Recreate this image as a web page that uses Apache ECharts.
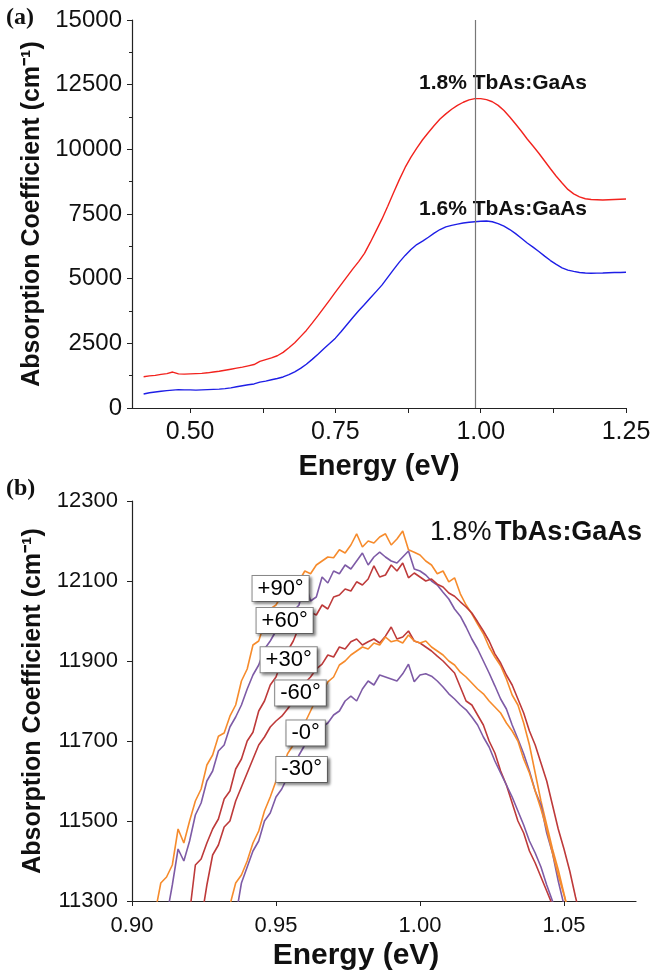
<!DOCTYPE html>
<html><head><meta charset="utf-8">
<script src="https://cdn.jsdelivr.net/npm/echarts@6/dist/echarts.min.js"></script>
<style>html,body{margin:0;padding:0;background:#fff}#c{width:663px;height:977px}</style>
</head><body><div id="c"></div>
<script>
// ---------- Panel (a) ----------
const energyA = Array.from({length: 84}, (_, i) => +(0.42 + 0.01 * i).toFixed(2));
const absorb18 = [1210,1240,1260,1300,1330,1390,1320,1310,1320,1330,
  1340,1360,1390,1420,1460,1500,1540,1580,1630,1680,
  1800,1870,1940,2020,2150,2330,2520,2760,3000,3280,
  3570,3870,4170,4480,4780,5080,5380,5660,5980,6400,
  6850,7300,7800,8320,8830,9300,9700,10050,10370,10650,
  10920,11170,11370,11550,11700,11820,11910,11960,11960,11920,
  11840,11700,11500,11250,10980,10700,10400,10130,9850,9550,
  9250,8960,8700,8450,8280,8160,8090,8060,8050,8040,
  8050,8060,8070,8080];
const absorb16 = [540,590,620,650,670,690,710,700,700,690,
  700,710,720,730,750,780,820,860,900,930,
  1000,1040,1090,1140,1200,1290,1400,1530,1690,1880,
  2080,2290,2490,2700,2960,3230,3500,3760,4000,4250,
  4500,4750,5050,5350,5640,5900,6130,6320,6450,6600,
  6760,6900,7000,7060,7110,7150,7180,7200,7220,7230,
  7200,7130,7030,6900,6740,6560,6380,6220,6050,5870,
  5700,5550,5420,5330,5280,5240,5220,5210,5215,5220,
  5230,5240,5240,5250];
const peakLineA = 0.99;
const xTicksA = [0.5, 0.75, 1.0, 1.25];
const xMinorA = [0.5, 0.625, 0.75, 0.875, 1.0, 1.125, 1.25];

// ---------- Panel (b) ----------
const energyB = Array.from({length: 77}, (_, i) => +(0.906 + 0.002 * i).toFixed(3));
const angleNames = ['+90°', '+60°', '+30°', '-60°', '-0°', '-30°'];
const absP90 = [null,11270,11345,11360,11390,11480,11445,11500,11550,11580,
  11640,11665,11712,11720,11762,11790,11850,11880,11940,11950,
  11995,12030,12040,12065,12075,12098,12100,12125,12118,12140,
  12150,12160,12158,12178,12170,12190,12218,12185,12200,12195,
  12210,12218,12190,12205,12225,12178,12172,12165,12150,12140,
  12118,12125,12098,12108,12068,12040,12018,11992,11968,11935,
  11910,11888,11855,11815,11790,11745,11690,11620,11550,11490,
  11430,11378,11318,11260,null,null,null];
const absP60 = [null,null,null,11260,11340,11430,11400,11450,11515,11545,
  11600,11625,11675,11690,11735,11760,11790,11830,11865,11890,
  11930,11950,11975,11990,12010,12025,12040,12100,12050,12060,
  12110,12095,12125,12118,12140,12130,12150,12170,12140,12160,
  12172,12160,12150,12145,12160,12175,12130,12125,12115,12100,
  12090,12072,12055,12030,12012,11985,11955,11930,11900,11870,
  11838,11805,11780,11740,11705,11668,11625,11575,11540,11470,
  11420,11350,11290,null,null,null,null];
const absP30 = [null,null,null,null,null,null,null,11270,11390,11405,
  11445,11480,11505,11555,11575,11630,11655,11700,11722,11775,
  11800,11840,11860,11900,11925,11950,11985,12000,12022,12015,
  12040,12030,12060,12065,12080,12075,12098,12090,12105,12138,
  12110,12115,12140,12125,12145,12108,12120,12110,12100,12105,
  12092,12085,12070,12062,12048,12035,12020,11998,11975,11950,
  11918,11895,11865,11840,11805,11770,11725,11690,11645,11600,
  11540,11480,11430,11375,11310,11250,null];
const absM60 = [null,null,null,null,null,null,null,null,null,11250,
  11340,11415,11440,11485,11500,11550,11585,11620,11655,11690,
  11710,11735,11750,11762,11780,11800,11825,11845,11860,11880,
  11892,11915,11910,11935,11930,11948,11955,11940,11948,11955,
  11945,11962,11985,11955,11960,11975,11950,11945,11935,11925,
  11912,11900,11885,11870,11835,11800,11790,11765,11740,11700,
  11670,11625,11590,11545,11500,11470,11425,11395,11360,11325,
  11290,11250,null,null,null,null,null];
const absM0 = [null,null,null,null,null,null,null,null,null,null,
  null,null,null,null,11290,11345,11365,11400,11445,11475,
  11525,11560,11600,11625,11668,11690,11720,11745,11775,11805,
  11820,11848,11860,11890,11900,11915,11925,11935,11930,11945,
  11940,11960,11948,11952,11945,11965,11950,11945,11950,11935,
  11925,11915,11900,11890,11872,11860,11845,11830,11818,11800,
  11785,11770,11745,11725,11700,11655,11620,11575,11530,11480,
  11420,11365,11315,11260,null,null,null];
const absM30 = [null,null,null,null,null,null,null,null,null,null,
  null,null,null,null,null,11260,11345,11385,11425,11450,
  11500,11520,11560,11580,11610,11635,11665,11690,11705,11720,
  11735,11745,11765,11775,11800,11812,11800,11830,11850,11840,
  11865,11860,11855,11850,11868,11892,11848,11865,11868,11862,
  11850,11835,11818,11805,11790,11778,11760,11740,11710,11685,
  11650,11620,11590,11560,11525,11490,11450,11420,11385,11340,
  11300,11250,null,null,null,null,null];
// label anchors (energy, absorption) for the boxed angle labels
const labelAnchors = [[0.9516,12081],[0.9530,12001],[0.9544,11903],[0.9585,11820],[0.9603,11720],[0.9589,11629]];

const seriesB = [absP90, absP60, absP30, absM60, absM0, absM30];
const colorsB = ['#F68B2C', '#7E5BA6', '#BE3A3A', '#BE3A3A', '#F68B2C', '#7E5BA6'];

const FONT = "'Liberation Sans', Arial, Helvetica, sans-serif";

function pairs(xs, ys) {
  const out = [];
  for (let i = 0; i < xs.length; i++) if (ys[i] !== null && ys[i] !== undefined) out.push([xs[i], ys[i]]);
  return out;
}

const chart = echarts.init(document.getElementById('c'), null, {renderer: 'canvas'});

const axisLine = {show: true, lineStyle: {color: '#222', width: 1.2}};

const series = [
  {type: 'line', xAxisIndex: 0, yAxisIndex: 0, data: pairs(energyA, absorb18), showSymbol: false,
   lineStyle: {color: '#F2231E', width: 1.4}, itemStyle: {color: '#F2231E'},
   markLine: {silent: true, symbol: 'none', label: {show: false}, lineStyle: {color: '#777', width: 1.2, type: 'solid'},
     data: [{xAxis: peakLineA}]}},
  {type: 'line', xAxisIndex: 0, yAxisIndex: 0, data: pairs(energyA, absorb16), showSymbol: false,
   lineStyle: {color: '#1E1EE6', width: 1.4}, itemStyle: {color: '#1E1EE6'}}
];
seriesB.forEach((vals, k) => {
  series.push({
    type: 'line', xAxisIndex: 1, yAxisIndex: 1, name: angleNames[k],
    data: pairs(energyB, vals), showSymbol: false, clip: true,
    lineStyle: {color: colorsB[k], width: 1.6}, itemStyle: {color: colorsB[k]},
    markPoint: {
      symbol: 'rect', symbolSize: 1, silent: true, itemStyle: {color: 'rgba(0,0,0,0)'},
      label: {show: true, position: 'inside', formatter: angleNames[k], color: '#000', fontFamily: FONT, fontSize: 22,
        backgroundColor: '#fff', borderColor: '#8a8a8a', borderWidth: 1, padding: [2, 5, 1, 5],
        shadowColor: 'rgba(0,0,0,0.45)', shadowBlur: 3, shadowOffsetX: 2, shadowOffsetY: 2},
      data: [{coord: labelAnchors[k]}]
    }
  });
});

chart.setOption({
  animation: false,
  backgroundColor: '#fff',
  grid: [
    {left: 132, top: 20, width: 494, height: 388},
    {left: 132, top: 501, width: 504, height: 400}
  ],
  xAxis: [
    {gridIndex: 0, type: 'value', min: 0.4, max: 1.25,
     axisLine: axisLine, splitLine: {show: false},
     axisTick: {show: true, customValues: xMinorA, length: 5, lineStyle: {color: '#222'}},
     axisLabel: {customValues: xTicksA, formatter: v => v.toFixed(2), color: '#111', fontFamily: FONT, fontSize: 25, margin: 12},
     name: 'Energy (eV)', nameLocation: 'middle', nameGap: 44,
     nameTextStyle: {fontFamily: FONT, fontWeight: 'bold', fontSize: 29, color: '#111'}},
    {gridIndex: 1, type: 'value', min: 0.9, max: 1.075,
     axisLine: axisLine, splitLine: {show: false},
     axisTick: {show: true, customValues: [0.9, 0.95, 1.0, 1.05], length: 5, lineStyle: {color: '#222'}},
     axisLabel: {customValues: [0.9, 0.95, 1.0, 1.05], formatter: v => v.toFixed(2), color: '#111', fontFamily: FONT, fontSize: 22, margin: 14},
     name: 'Energy (eV)', nameLocation: 'middle', nameGap: 40,
     nameTextStyle: {fontFamily: FONT, fontWeight: 'bold', fontSize: 30, color: '#111', padding: [0, 56, 0, 0]}}
  ],
  yAxis: [
    {gridIndex: 0, type: 'value', min: 0, max: 15000, interval: 2500,
     axisLine: axisLine, splitLine: {show: false},
     axisTick: {show: true, length: 5, lineStyle: {color: '#222'}},
     minorTick: {show: true, splitNumber: 2, length: 3, lineStyle: {color: '#222'}},
     axisLabel: {color: '#111', fontFamily: FONT, fontSize: 24, margin: 10, formatter: v => String(v)},
     name: 'Absorption Coefficient (cm⁻¹)', nameLocation: 'middle', nameGap: 84, nameRotate: 90,
     nameTextStyle: {fontFamily: FONT, fontWeight: 'bold', fontSize: 25, color: '#111'}},
    {gridIndex: 1, type: 'value', min: 11300, max: 12300, interval: 200,
     axisLine: axisLine, splitLine: {show: false},
     axisTick: {show: true, length: 5, lineStyle: {color: '#222'}},
     axisLabel: {color: '#111', fontFamily: FONT, fontSize: 22, margin: 14, formatter: v => String(v)},
     name: 'Absorption Coefficient (cm⁻¹)', nameLocation: 'middle', nameGap: 85, nameRotate: 90,
     nameTextStyle: {fontFamily: FONT, fontWeight: 'bold', fontSize: 25, color: '#111'}}
  ],
  graphic: [
    {type: 'text', left: 6, top: 6, style: {text: '(a)', font: "bold 24px 'Liberation Serif', 'Times New Roman', serif", fill: '#111'}},
    {type: 'text', left: 6, top: 477, style: {text: '(b)', font: "bold 24px 'Liberation Serif', 'Times New Roman', serif", fill: '#111'}},
    {type: 'text', left: 419, top: 73, style: {text: '1.8% TbAs:GaAs', font: "bold 21px " + FONT, fill: '#111'}},
    {type: 'text', left: 419, top: 199, style: {text: '1.6% TbAs:GaAs', font: "bold 21px " + FONT, fill: '#111'}},
    {type: 'text', left: 430, top: 519, style: {
      text: '{n|1.8%} {b|TbAs:GaAs}',
      rich: {n: {fontFamily: FONT, fontSize: 27, fill: '#111', color: '#111'}, b: {fontFamily: FONT, fontSize: 27, fontWeight: 'bold', fill: '#111', color: '#111'}}
    }}
  ],
  series: series
});
</script></body></html>
